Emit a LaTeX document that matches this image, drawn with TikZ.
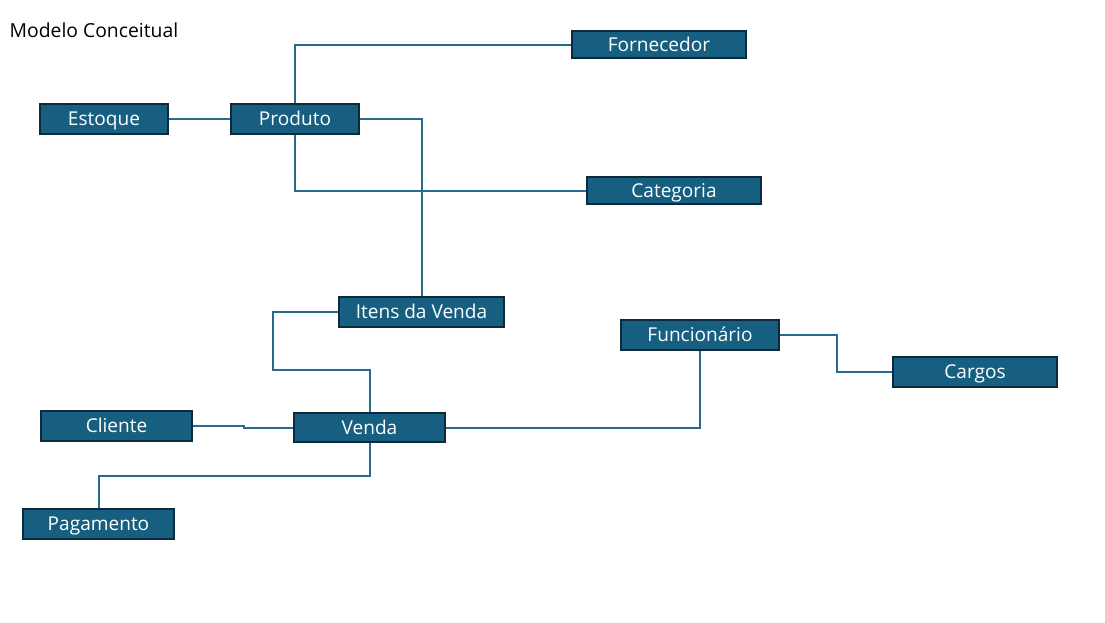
\documentclass[tikz,border=0pt]{standalone}
\usepackage{fontspec}
\setmainfont{Open Sans}
\usepackage{xcolor}
\definecolor{azulent}{HTML}{175F80}
\definecolor{azulborda}{HTML}{0D2A3C}
\definecolor{azullinha}{HTML}{2A6A8C}
\usetikzlibrary{positioning}

\begin{document}
\begin{tikzpicture}[x=0.75pt,y=-0.75pt,
  entidade/.style={draw=azulborda,line width=1.1pt,fill=azulent,text=white,
    font=\fontsize{14.3}{16}\selectfont,inner sep=0pt,minimum height=22.5pt,
    text height=1em,text depth=0pt},
  ligacao/.style={draw=azullinha,line width=1.5pt}]
\useasboundingbox (0,0) rectangle (1105,622);
% titulo
\node[anchor=west,font=\fontsize{14.5}{16}\selectfont] (titulo) at (5,30) {Modelo Conceitual};
% entidades
\node[entidade,minimum width=96pt] (estoque) at (104,119) {Estoque};
\node[entidade,minimum width=96pt] (produto) at (295,119) {Produto};
\node[entidade,minimum width=130.5pt,minimum height=20.25pt] (fornecedor) at (659,44.5) {Fornecedor};
\node[entidade,minimum width=130.5pt,minimum height=20.25pt] (categoria) at (674,190.5) {Categoria};
\node[entidade,minimum width=123.75pt] (itens) at (421.5,312) {Itens da Venda};
\node[entidade,minimum width=118.5pt] (funcionario) at (700,335) {Funcionário};
\node[entidade,minimum width=123pt] (cargos) at (975,372) {Cargos};
\node[entidade,minimum width=113.25pt] (cliente) at (116.5,426) {Cliente};
\node[entidade,minimum width=113.25pt,minimum height=21.75pt] (venda) at (369.5,427.5) {Venda};
\node[entidade,minimum width=113.25pt] (pagamento) at (98.5,524) {Pagamento};
% ligacoes
\draw[ligacao] (estoque) -- (produto);
\draw[ligacao] (produto.north) |- (fornecedor.west);
\draw[ligacao] (produto.south) |- (categoria.west);
\draw[ligacao] (produto.east) -| (itens.north);
\draw[ligacao] (itens.west) -| ++(-65,58) -| (venda.north);
\draw[ligacao] (cliente.east) -- ++(51,0) |- (venda.west);
\draw[ligacao] (venda.south) -- ++(0,33) -| (pagamento.north);
\draw[ligacao] (venda.east) -| (funcionario.south);
\draw[ligacao] (funcionario.east) -- ++(57,0) |- (cargos.west);
\end{tikzpicture}
\end{document}
